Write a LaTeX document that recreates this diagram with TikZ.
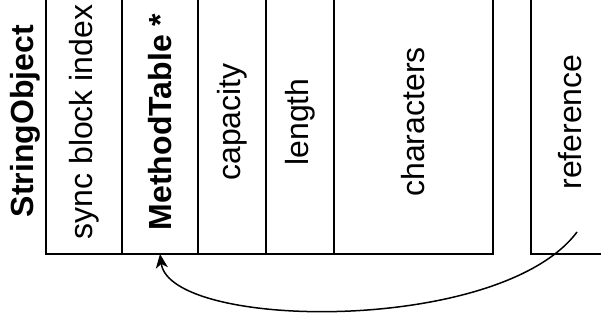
\documentclass[tikz,border=0pt]{standalone}
\usepackage{fontspec}
\setmainfont{Liberation Sans}
\usetikzlibrary{positioning,arrows.meta}
\tikzset{
    field/.style={rectangle, draw, line width=1pt, outer sep=0pt, inner sep=0pt,
    	minimum height=132pt, font=\fontsize{16}{19}\selectfont}
}
\tikzset{
    title/.style={inner sep=0pt, font=\fontsize{16}{19}\selectfont\bfseries}
}
\tikzset{
	pointer/.style={line width=0.75pt, -{Stealth[length=7pt,width=6pt,inset=2pt]}}
}

\begin{document}
\begin{tikzpicture}[x=0.5pt, y=-0.5pt]
  \useasboundingbox (0,0) rectangle (601,327);
  \clip (0,0) rectangle (601,327);

  \node (title) [title] at (25,121) {\rotatebox{90}{StringObject}};

  \node (sync) [field, minimum width=38pt] at (84,122) {\rotatebox{90}{sync block index}};
  \node (mt) [field, minimum width=38pt, right=0pt of sync] {\rotatebox{90}{\bfseries MethodTable *}};
  \node (cap) [field, minimum width=34pt, right=0pt of mt] {\rotatebox{90}{capacity}};
  \node (len) [field, minimum width=34pt, right=0pt of cap] {\rotatebox{90}{length}};
  \node (chars) [field, minimum width=79.5pt, right=0pt of len] {\rotatebox{90}{characters}};
  \node (ref) [field, minimum width=39pt, right=19pt of chars] {\rotatebox{90}{reference}};

  \coordinate (refptr) at (577,232);

  \draw [pointer] (refptr) .. controls (500,335) and (170,330) .. (mt.south);
\end{tikzpicture}
\end{document}
